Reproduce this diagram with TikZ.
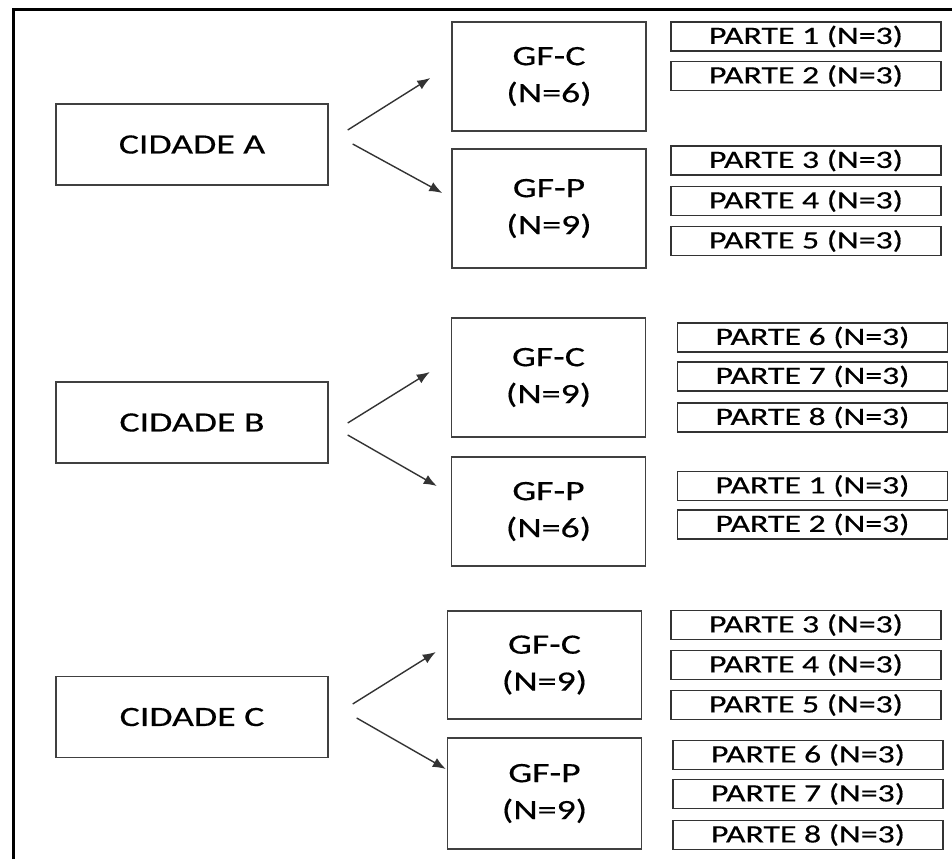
\documentclass[tikz,border=0pt]{standalone}
\usepackage{fontspec}
\setmainfont{Carlito}[FakeStretch=1.35,FakeBold=0.4]
\usetikzlibrary{arrows.meta}

\begin{document}
\begin{tikzpicture}[x=1pt,y=-1pt,
	caixa/.style={draw=black!75,line width=1.4pt,inner sep=0pt,align=center,font=\fontsize{28}{37}\selectfont},
	grupo/.style={caixa,minimum width=194pt,font=\fontsize{28}{37}\selectfont},
	parte/.style={draw=black!80,line width=1.6pt,inner sep=0pt,minimum width=270pt,minimum height=29pt,font=\fontsize{25}{30}\selectfont},
	seta/.style={draw=black!80,line width=1.4pt,-{Latex[length=13pt,width=10pt]}}]
	\useasboundingbox (0,0) rectangle (952,859);
	\draw [line width=3pt] (13,859) -- (13,10) -- (952,10);
	% cidades
	\node [caixa,minimum width=272pt,minimum height=81pt] (cidA) at (192,144.5) {CIDADE A};
	\node [caixa,minimum width=272pt,minimum height=81pt] (cidB) at (192,422.5) {CIDADE B};
	\node [caixa,minimum width=272pt,minimum height=81pt] (cidC) at (192,717) {CIDADE C};
	% grupos focais
	\node [grupo,minimum height=109pt] (gfcA) at (549,76.5) {GF-C\\(N=6)};
	\node [grupo,minimum height=119pt] (gfpA) at (549,208.5) {GF-P\\(N=9)};
	\node [grupo,minimum height=119pt] (gfcB) at (548.5,377.5) {GF-C\\(N=9)};
	\node [grupo,minimum height=109pt] (gfpB) at (548.5,511.5) {GF-P\\(N=6)};
	\node [grupo,minimum height=108pt] (gfcC) at (544.5,665) {GF-C\\(N=9)};
	\node [grupo,minimum height=111pt] (gfpC) at (544.5,793.5) {GF-P\\(N=9)};
	% partes
	\foreach \n/\y in {1/36.5,2/76,3/160.5,4/201,5/241}
	\node [parte] (pA\n) at (806,\y) {PARTE \n\ (N=3)};
	\foreach \n/\y in {6/337.5,7/376.5,8/417.5,1/486,2/524.5}
	\node [parte] (pB\n) at (812.5,\y) {PARTE \n\ (N=3)};
	\foreach \n/\y in {3/625,4/665,5/705}
	\node [parte] (pC\n) at (806,\y) {PARTE \n\ (N=3)};
	\foreach \n/\y in {6/755,7/794,8/835}
	\node [parte] (pC\n) at (808,\y) {PARTE \n\ (N=3)};
	% setas
	\draw [seta] ([xshift=19pt,yshift=14.5pt]cidA.east) -- ([xshift=-21pt,yshift=-1.5pt]gfcA.west);
	\draw [seta] ([xshift=24pt,yshift=0.5pt]cidA.east) -- ([xshift=-9pt,yshift=15.5pt]gfpA.west);
	\draw [seta] ([xshift=19pt,yshift=-0.5pt]cidB.east) -- ([xshift=-21pt,yshift=5.5pt]gfcB.west);
	\draw [seta] ([xshift=19pt,yshift=-12.5pt]cidB.east) -- ([xshift=-14pt,yshift=25.5pt]gfpB.west);
	\draw [seta] ([xshift=24pt,yshift=13pt]cidC.east) -- ([xshift=-11pt,yshift=13pt]gfcC.west);
	\draw [seta] ([xshift=28pt,yshift=-1pt]cidC.east) -- ([xshift=-1pt,yshift=24.5pt]gfpC.west);
\end{tikzpicture}
\end{document}
